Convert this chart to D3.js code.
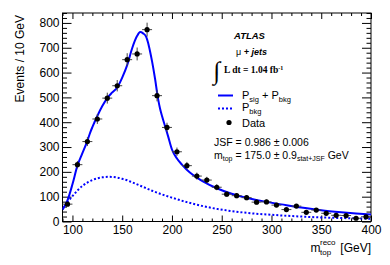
<!DOCTYPE html>
<meta charset="utf-8">
<style>
body { margin: 0; background: #fff; }
text { font-family: "Liberation Sans", Arial, sans-serif; fill: #000; }
.tick line { stroke: #000; }
.tick text { font-size: 12px; }
</style>
<body>
<svg width="390" height="265"></svg>
<script src="https://d3js.org/d3.v7.min.js"></script>
<script>
// data points (bin centres, events, errors)
var binCentres = [95,105,115,125,135,145,155,165,175,185,195,205,215,225,235,245,255,265,275,285,295,305,315,325,335,345,355,365,375,385,395];
var events     = [70,229,322,413,497,547,652,675,773,507,379,281,225,183,167,138,110,104,96,78,79,66,48,62,37,46,33,25,24,13,19];
var errors     = [8,15,18,20,22,23,26,26,28,23,19,17,15,14,13,12,10,10,10,9,9,8,7,8,6,7,6,5,5,4,4];

// fit curve P_sig + P_bkg
var fitMass = [90,95,100,105,110,115,118,120,125,130,135,140,145,150,155,160,165,168,171,174,176,178,180,183,186,188,190,193,196,200,205,210,218,225,232,245,260,278,295,310,330,350,370,385,400];
var fitVal  = [48,85,150,225,275,325,360,380,425,465,497,520,540,580,630,698,748,763,758,745,720,685,645,575,495,455,425,385,345,290,254,229,197,177,160,134,112,93,79,69,56,45,37,32,28];

// background curve P_bkg
var bkgMass = [90,95,100,105,110,115,120,125,130,137,145,150,155,160,170,180,190,200,215,230,245,260,280,300,320,340,360,380,400];
var bkgVal  = [50,78,102,125,143,157,167,174,178,180,177,172,166,158,141,124,109,96,78,63,51,42,33,27,22,18,15,13,11];

var xMajor = [100,150,200,250,300,350,400];
var yMajor = [0,100,200,300,400,500,600,700,800];

var svg = d3.select("svg");
var pLeft = 62.5, pRight = 371, pTop = 13, pBottom = 221.5;

var x = d3.scaleLinear().domain([90, 400]).range([pLeft, pRight]);
var y = d3.scaleLinear().domain([0, 840]).range([pBottom, pTop]);

var xMinor = d3.range(90, 401, 10).filter(function(v){ return v % 50 != 0; });
var yMinor = d3.range(0, 841, 20).filter(function(v){ return v % 100 != 0; });

function noDomain(g){ g.select(".domain").remove(); }

// bottom axis, ticks pointing inside
svg.append("g").attr("transform", "translate(0," + pBottom + ")")
   .call(d3.axisBottom(x).tickValues(xMajor).tickSizeInner(-6).tickSizeOuter(0).tickPadding(4))
   .call(noDomain);
svg.append("g").attr("transform", "translate(0," + pBottom + ")")
   .call(d3.axisBottom(x).tickValues(xMinor).tickSizeInner(-3).tickSizeOuter(0).tickFormat(""))
   .call(noDomain);
// top mirror
svg.append("g").attr("transform", "translate(0," + pTop + ")")
   .call(d3.axisTop(x).tickValues(xMajor).tickSizeInner(-6).tickSizeOuter(0).tickFormat(""))
   .call(noDomain);
svg.append("g").attr("transform", "translate(0," + pTop + ")")
   .call(d3.axisTop(x).tickValues(xMinor).tickSizeInner(-3).tickSizeOuter(0).tickFormat(""))
   .call(noDomain);

// left axis
svg.append("g").attr("transform", "translate(" + pLeft + ",0)")
   .call(d3.axisLeft(y).tickValues(yMajor).tickSizeInner(-9).tickSizeOuter(0).tickPadding(3))
   .call(noDomain);
svg.append("g").attr("transform", "translate(" + pLeft + ",0)")
   .call(d3.axisLeft(y).tickValues(yMinor).tickSizeInner(-4.5).tickSizeOuter(0).tickFormat(""))
   .call(noDomain);
// right mirror
svg.append("g").attr("transform", "translate(" + pRight + ",0)")
   .call(d3.axisRight(y).tickValues(yMajor).tickSizeInner(-9).tickSizeOuter(0).tickFormat(""))
   .call(noDomain);
svg.append("g").attr("transform", "translate(" + pRight + ",0)")
   .call(d3.axisRight(y).tickValues(yMinor).tickSizeInner(-4.5).tickSizeOuter(0).tickFormat(""))
   .call(noDomain);

svg.append("rect")
   .attr("x", pLeft).attr("y", pTop)
   .attr("width", pRight - pLeft).attr("height", pBottom - pTop)
   .style("fill", "none").style("stroke", "#000").style("stroke-width", 1);

svg.append("clipPath").attr("id", "plotclip")
   .append("rect").attr("x", pLeft).attr("y", pTop)
   .attr("width", pRight - pLeft).attr("height", pBottom - pTop);

var line = d3.line().curve(d3.curveMonotoneX);

// background (dotted)
svg.append("path")
   .attr("clip-path", "url(#plotclip)")
   .attr("d", line(bkgMass.map(function(m, i){ return [x(m), y(bkgVal[i])]; })))
   .style("fill", "none").style("stroke", "#0000ff")
   .style("stroke-width", 2).style("stroke-dasharray", "2,2");

// fit (solid)
svg.append("path")
   .attr("clip-path", "url(#plotclip)")
   .attr("d", line(fitMass.map(function(m, i){ return [x(m), y(fitVal[i])]; })))
   .style("fill", "none").style("stroke", "#0000ff").style("stroke-width", 2);

// data with error bars
var pts = svg.selectAll(".pt")
   .data(binCentres.map(function(m, i){ return {m: m, v: events[i], e: errors[i]}; }))
   .enter().append("g").attr("class", "pt");

pts.append("line")
   .attr("x1", function(d){ return x(d.m - 5); })
   .attr("x2", function(d){ return x(d.m + 5); })
   .attr("y1", function(d){ return y(d.v); })
   .attr("y2", function(d){ return y(d.v); })
   .style("stroke", "#444").style("stroke-width", 1);
pts.append("line")
   .attr("x1", function(d){ return x(d.m); })
   .attr("x2", function(d){ return x(d.m); })
   .attr("y1", function(d){ return y(d.v - d.e); })
   .attr("y2", function(d){ return y(d.v + d.e); })
   .style("stroke", "#444").style("stroke-width", 1);
pts.append("circle")
   .attr("cx", function(d){ return x(d.m); })
   .attr("cy", function(d){ return y(d.v); })
   .attr("r", 2.6)
   .style("fill", "#000");

// axis titles
svg.append("text")
   .attr("transform", "translate(24,15) rotate(-90)")
   .attr("text-anchor", "end")
   .style("font-size", "12px")
   .text("Events / 10 GeV");

svg.append("text").attr("x", 310.5).attr("y", 252).style("font-size", "12px").text("m");
svg.append("text").attr("x", 320).attr("y", 245).style("font-size", "8px").text("reco");
svg.append("text").attr("x", 320).attr("y", 255).style("font-size", "8px").text("top");
svg.append("text").attr("x", 371).attr("y", 252).attr("text-anchor", "end")
   .style("font-size", "12px").text("[GeV]");

// labels
svg.append("text").attr("x", 234).attr("y", 39)
   .style("font-size", "9.5px").style("font-weight", "bold").style("font-style", "italic")
   .text("ATLAS");

var mu = svg.append("text").attr("x", 236).attr("y", 55).style("font-size", "9px");
mu.append("tspan").text("\u03bc ");
mu.append("tspan").style("font-weight", "bold").style("font-style", "italic").text("+ jets");

svg.append("text").attr("x", 213.5).attr("y", 79)
   .style("font-family", "'Liberation Serif', serif").style("font-size", "25px")
   .text("\u222b");
var lumi = svg.append("text").attr("x", 224).attr("y", 73)
   .style("font-family", "'Liberation Serif', serif").style("font-size", "9.5px").style("font-weight", "bold");
lumi.append("tspan").text("L dt = 1.04 fb");
lumi.append("tspan").attr("dy", -3.5).style("font-size", "6px").text("-1");

// legend
svg.append("line").attr("x1", 218).attr("x2", 233).attr("y1", 95.5).attr("y2", 95.5)
   .style("stroke", "#0000ff").style("stroke-width", 2);
svg.append("line").attr("x1", 218).attr("x2", 233).attr("y1", 108.5).attr("y2", 108.5)
   .style("stroke", "#0000ff").style("stroke-width", 2).style("stroke-dasharray", "2,2");
svg.append("circle").attr("cx", 229).attr("cy", 122.5).attr("r", 2.6).style("fill", "#000");

var l1 = svg.append("text").attr("x", 242).attr("y", 99).style("font-size", "11px");
l1.append("tspan").text("P");
l1.append("tspan").attr("dy", 2.5).style("font-size", "7.5px").text("sig");
l1.append("tspan").attr("dy", -2.5).text(" + P");
l1.append("tspan").attr("dy", 2.5).style("font-size", "7.5px").text("bkg");

var l2 = svg.append("text").attr("x", 242).attr("y", 111).style("font-size", "11px");
l2.append("tspan").text("P");
l2.append("tspan").attr("dy", 2.5).style("font-size", "7.5px").text("bkg");

svg.append("text").attr("x", 242).attr("y", 126.5).style("font-size", "11px").text("Data");

svg.append("text").attr("x", 214).attr("y", 146).style("font-size", "10.5px")
   .text("JSF = 0.986 \u00b1 0.006");
var mt = svg.append("text").attr("x", 214).attr("y", 158.5).style("font-size", "10.5px");
mt.append("tspan").text("m");
mt.append("tspan").attr("dy", 2.5).style("font-size", "7px").text("top");
mt.append("tspan").attr("dy", -2.5).text(" = 175.0 \u00b1 0.9");
mt.append("tspan").attr("dy", 2.5).style("font-size", "7px").text("stat+JSF");
mt.append("tspan").attr("dy", -2.5).text(" GeV");
</script>
</body>
